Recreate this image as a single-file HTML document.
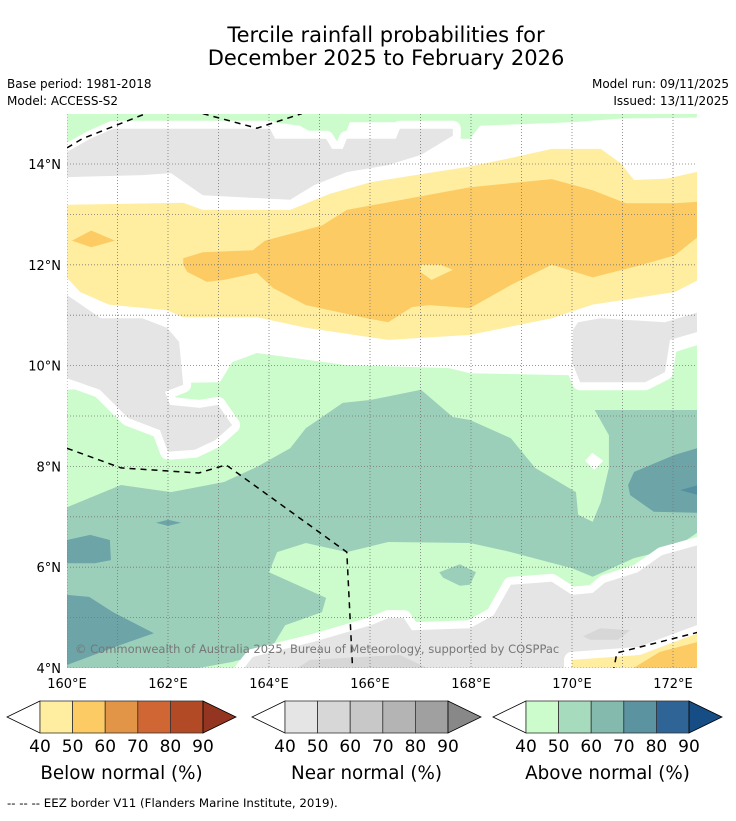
<!DOCTYPE html>
<html><head><meta charset="utf-8">
<style>
body{margin:0;background:#fff;}
svg text{font-family:"DejaVu Sans","Liberation Sans",sans-serif;}
</style></head>
<body>
<svg id="chart" width="736" height="816" viewBox="0 0 736 816" xmlns="http://www.w3.org/2000/svg">
<text x="386" y="42" font-size="21" text-anchor="middle">Tercile rainfall probabilities for</text>
<text x="386" y="65" font-size="21" text-anchor="middle">December 2025 to February 2026</text>
<text x="7" y="88" font-size="12">Base period: 1981-2018</text>
<text x="7" y="105" font-size="12">Model: ACCESS-S2</text>
<text x="729" y="88" font-size="12" text-anchor="end">Model run: 09/11/2025</text>
<text x="729" y="105" font-size="12" text-anchor="end">Issued: 13/11/2025</text>
<defs><clipPath id="mapclip"><rect x="67" y="114" width="630" height="554"/></clipPath></defs>
<g id="map" clip-path="url(#mapclip)"></g>
<g id="axes"></g>
<g id="cbars"></g>
<text x="7" y="807" font-size="11.8">--  --  -- EEZ border V11 (Flanders Marine Institute, 2019).</text>
</svg>
<script>
const NS="http://www.w3.org/2000/svg";
const lonTicks=[160,162,164,166,168,170,172];
const latTicks=[4,6,8,10,12,14];
const gridLons=[160,161,162,163,164,165,166,167,168,169,170,171,172];
const gridLats=[4,5,6,7,8,9,10,11,12,13,14];
const cbTicks=[40,50,60,70,80,90];
const belowColors=["#ffeea0","#fdcb64","#e29447","#cf6633","#b34a26","#933520"];
const nearColors=["#e5e5e5","#d7d7d7","#c8c8c8","#b4b4b4","#a0a0a0","#888888"];
const aboveColors=["#ccfccc","#a7dbbd","#84b9ad","#5b94a0","#2f6497","#164d85"];
const cbTitles=["Below normal (%)","Near normal (%)","Above normal (%)"];
const topGreen=[[160,15.2],[172.5,15.2],[172.47,14.92],[170.95,14.9],[170,14.83],[168.97,14.79],[168.18,14.76],[167.98,14.5],[167.78,14.5],[167.64,14.76],[166.59,14.83],[165.6,14.83],[165.46,14.46],[165.31,14.26],[165.13,14.46],[164.61,14.76],[164.08,14.83],[160.91,14.83],[160.46,14.66],[160,14.42]];
const topGray=[[160,14.24],[160.46,14.5],[160.91,14.7],[164.02,14.7],[164.12,14.5],[165.13,14.5],[165.25,14.3],[165.46,14.3],[165.54,14.5],[166.51,14.5],[166.59,14.7],[167.64,14.7],[167.64,14.56],[167.01,14.18],[166.36,13.98],[165.54,13.84],[164.89,13.58],[164.42,13.29],[162.69,13.38],[162.06,13.82],[161.49,13.78],[160,13.74]];
const yellowBand=[[160,13.19],[162.3,13.23],[162.69,13.09],[164.42,13.09],[165.21,13.41],[166.02,13.64],[167.98,13.95],[168.79,14.12],[169.6,14.3],[170.57,14.3],[170.97,14.01],[171.23,13.68],[171.88,13.71],[172.5,13.85],[172.5,11.7],[172.04,11.46],[170.41,11.21],[169.6,10.94],[167.98,10.61],[166.36,10.51],[164.73,10.75],[163.76,10.96],[162.3,10.96],[161.98,11.1],[160.83,11.21],[160.26,11.46],[160,11.74]];
const orangeBand=[[162.3,12.0],[162.3,12.13],[162.69,12.25],[163.68,12.29],[163.92,12.48],[165.05,12.78],[165.54,13.09],[167.98,13.54],[169.6,13.7],[170.41,13.48],[171.07,13.22],[172.04,13.22],[172.5,13.25],[172.5,12.56],[172.04,12.19],[171.39,12.0],[170.41,11.75],[169.6,12.0],[168.79,11.6],[167.98,11.14],[167.17,11.2],[166.83,11.16],[166.36,10.86],[165.94,10.94],[164.73,11.2],[164.08,11.54],[163.76,11.84],[163.11,11.7],[162.77,11.66],[162.38,11.86]];
const orangeBlob=[[160.1,12.48],[160.48,12.68],[160.95,12.48],[160.48,12.35]];
const yellowHole=[[167.0,12.0],[167.39,12.0],[167.64,11.9],[167.22,11.7],[167.0,11.86]];
const bigGreen=[[160,9.52],[162.3,9.66],[163.03,9.67],[163.27,10.07],[163.76,10.25],[165.54,10.01],[167.56,9.95],[167.98,9.85],[170,9.81],[170.16,9.62],[171.55,9.62],[172.04,10.27],[172.5,10.41],[172.5,3.9],[160,3.9]];
const teal=[[160,7.19],[161.07,7.63],[162.06,7.49],[163.11,7.69],[163.76,7.99],[164.42,8.36],[164.73,8.76],[165.46,9.26],[166.02,9.32],[167.01,9.52],[167.64,8.98],[167.98,8.92],[168.79,8.56],[169.27,7.97],[170.08,7.49],[170.12,7.04],[170.41,6.9],[170.57,7.29],[170.73,7.97],[170.73,8.62],[170.45,9.12],[172.5,9.12],[172.5,6.7],[172.04,6.38],[171.23,6.18],[170.41,5.81],[170,5.98],[168.79,6.3],[167.98,6.48],[166.36,6.5],[165.54,6.3],[164.73,6.48],[164.16,6.3],[164.0,5.9],[164.42,5.71],[165.13,5.39],[165.05,5.11],[164.32,4.85],[164.0,4.32],[163.27,4.12],[162.06,3.9],[160,3.9]];
const whiteDiamond=[[170.26,8.11],[170.4,8.27],[170.62,8.11],[170.44,7.93]];
const tealBlob=[[167.37,5.9],[167.78,6.06],[168.1,5.9],[167.98,5.65],[167.78,5.63],[167.45,5.79]];
const darkA=[[160,6.54],[160.46,6.64],[160.85,6.54],[160.87,6.14],[160.55,6.08],[160,6.08]];
const darkB=[[160,5.45],[160.44,5.41],[160.91,5.11],[161.72,4.69],[161.07,4.46],[160,4.06]];
const darkC=[[171.23,7.89],[172.04,8.23],[172.5,8.37],[172.5,7.08],[171.62,7.1],[171.15,7.43],[171.11,7.63]];
const spindle=[[161.76,6.88],[162.0,6.94],[162.26,6.88],[162.0,6.82]];
const darkest=[[172.14,7.53],[172.5,7.63],[172.5,7.43]];
const leftGray=[[160,11.4],[160.67,10.94],[161.49,10.94],[161.98,10.75],[162.22,10.47],[162.3,9.62],[161.94,9.48],[162.04,9.22],[162.63,9.16],[162.99,9.22],[163.27,8.82],[162.93,8.52],[162.53,8.33],[162.0,8.29],[161.84,8.72],[161.21,8.96],[160.65,9.52],[160,9.75]];
const rightGray=[[170.12,10.86],[170.56,10.94],[171.84,10.86],[172.5,11.06],[172.5,10.67],[171.94,10.51],[171.84,9.87],[171.45,9.67],[170.16,9.67],[170,10.07],[170.02,10.71]];
const bottomGray=[[163.43,3.9],[163.68,4.22],[164.08,4.32],[164.89,4.52],[166.02,4.85],[166.36,4.99],[166.67,4.99],[166.83,4.75],[167.98,4.79],[168.45,5.05],[168.79,5.65],[169.6,5.71],[170,5.45],[170.41,5.49],[170.65,5.69],[171.3,5.9],[171.78,6.24],[172.5,6.44],[172.5,3.9]];
const grayPatch=[[170.22,4.63],[170.56,4.79],[171.15,4.75],[170.91,4.56],[170.36,4.56]];
const grayBand=[[164.42,3.9],[164.81,4.16],[166.59,4.26],[167.33,3.9]];
const brYellow=[[170,3.9],[170,4.16],[171.35,4.26],[172.14,4.56],[172.5,4.69],[172.5,3.9]];
const brOrange=[[171.05,3.9],[171.74,4.32],[172.5,4.52],[172.5,3.9]];
const eezLines=[
 [[160,14.32],[160.3,14.5],[160.83,14.71],[161.56,15.0],[161.7,15.1]],
 [[162.69,15.0],[163.76,14.71],[164.65,15.0]],
 [[160,8.36],[161.07,7.97],[162.61,7.87],[163.15,8.03],[165.54,6.3],[165.66,3.9]],
 [[170.81,3.9],[170.89,4.3],[172.5,4.71]]
];
const X=lon=>67+(lon-160)*50.5;
const Y=lat=>668-(lat-4)*50.4;
const map=document.getElementById('map');
function poly(ring,fill,name,halo){
  const p=document.createElementNS(NS,'polygon');
  p.setAttribute('points',ring.map(q=>X(q[0]).toFixed(1)+','+Y(q[1]).toFixed(1)).join(' '));
  p.setAttribute('fill',fill);
  if(halo){p.setAttribute('stroke','#fff');p.setAttribute('stroke-width','16');p.setAttribute('stroke-linejoin','round');p.setAttribute('paint-order','stroke');}
  
  
  map.appendChild(p);
}
const bg=document.createElementNS(NS,'rect');
bg.setAttribute('x',67);bg.setAttribute('y',114);bg.setAttribute('width',630);bg.setAttribute('height',554);bg.setAttribute('fill','#fff');


map.appendChild(bg);
const G1=aboveColors[0],G2="#9ccfb9",G3="#6ca4a8",G4="#55909f";
poly(topGreen,G1,'above-normal-north',false);
poly(topGray,nearColors[0],'near-normal-north',true);
poly(bigGreen,G1,'above-normal-south',true);
poly(teal,G2,'above-normal-50-60',false);
poly(tealBlob,G2,'above-normal-blob',false);
poly(darkA,G3,'above-normal-60-70-a',false);
poly(darkB,G3,'above-normal-60-70-b',false);
poly(darkC,G3,'above-normal-60-70-c',false);
poly(spindle,G3,'above-normal-60-70-d',false);
poly(darkest,G4,'above-normal-70-80',false);
poly(whiteDiamond,'#fff','no-signal-patch',false);
poly(leftGray,nearColors[0],'near-normal-west',true);
poly(rightGray,nearColors[0],'near-normal-east',true);
poly(bottomGray,nearColors[0],'near-normal-south',true);
poly(grayPatch,nearColors[1],'near-normal-50-60-a',false);
poly(grayBand,nearColors[1],'near-normal-50-60-b',false);
poly(yellowBand,belowColors[0],'below-normal-40-50',true);
poly(orangeBand,belowColors[1],'below-normal-50-60',false);
poly(orangeBlob,belowColors[1],'below-normal-blob',false);
poly(yellowHole,belowColors[0],'below-normal-hole',false);
poly(brYellow,belowColors[0],'below-normal-southeast',true);
poly(brOrange,belowColors[1],'below-normal-southeast-50-60',false);
gridLons.forEach(l=>{const ln=document.createElementNS(NS,'line');
 ln.setAttribute('x1',X(l));ln.setAttribute('x2',X(l));ln.setAttribute('y1',114);ln.setAttribute('y2',668);
 ln.setAttribute('stroke','#777');ln.setAttribute('stroke-width','0.8');ln.setAttribute('stroke-dasharray','1,2');
 
 
 map.appendChild(ln);});
gridLats.forEach(l=>{const ln=document.createElementNS(NS,'line');
 ln.setAttribute('y1',Y(l));ln.setAttribute('y2',Y(l));ln.setAttribute('x1',67);ln.setAttribute('x2',697);
 ln.setAttribute('stroke','#777');ln.setAttribute('stroke-width','0.8');ln.setAttribute('stroke-dasharray','1,2');
 
 
 map.appendChild(ln);});
eezLines.forEach(r=>{const pl=document.createElementNS(NS,'polyline');
 pl.setAttribute('points',r.map(q=>X(q[0]).toFixed(1)+','+Y(q[1]).toFixed(1)).join(' '));
 pl.setAttribute('fill','none');pl.setAttribute('stroke','#000');pl.setAttribute('stroke-width','1.5');pl.setAttribute('stroke-dasharray','6,5');
 
 
 map.appendChild(pl);});
const cr=document.createElementNS(NS,'text');
cr.setAttribute('x',75);cr.setAttribute('y',653);cr.setAttribute('font-size','11.5');cr.setAttribute('fill','#777');
cr.textContent='\u00a9 Commonwealth of Australia 2025, Bureau of Meteorology, supported by COSPPac';


map.appendChild(cr);
const axes=document.getElementById('axes');
lonTicks.forEach(l=>{const t=document.createElementNS(NS,'text');
 t.setAttribute('x',X(l));t.setAttribute('y',688);t.setAttribute('font-size','13');t.setAttribute('text-anchor','middle');
 t.textContent=l+'°E';
 
 
 axes.appendChild(t);});
latTicks.forEach(l=>{const t=document.createElementNS(NS,'text');
 t.setAttribute('x',61);t.setAttribute('y',Y(l)+5);t.setAttribute('font-size','13');t.setAttribute('text-anchor','end');
 t.textContent=l+'°N';
 
 
 axes.appendChild(t);});
const cb=document.getElementById('cbars');
const cbLeft=[40,285,526], cbW=163, cbY=701, cbH=32, tri=33;
[belowColors,nearColors,aboveColors].forEach((cols,i)=>{
 const x0=cbLeft[i], sw=cbW/5;
 const lt=document.createElementNS(NS,'polygon');
 lt.setAttribute('points',`${x0},${cbY} ${x0-tri},${cbY+cbH/2} ${x0},${cbY+cbH}`);
 lt.setAttribute('fill','#fff');lt.setAttribute('stroke','#000');lt.setAttribute('stroke-width','0.8');
 
 
 cb.appendChild(lt);
 for(let k=0;k<5;k++){const r=document.createElementNS(NS,'rect');
  r.setAttribute('x',x0+k*sw);r.setAttribute('y',cbY);r.setAttribute('width',sw);r.setAttribute('height',cbH);
  r.setAttribute('fill',cols[k]);r.setAttribute('stroke','#333');r.setAttribute('stroke-width','0.8');
  
  
  cb.appendChild(r);}
 const rt=document.createElementNS(NS,'polygon');
 rt.setAttribute('points',`${x0+cbW},${cbY} ${x0+cbW+tri},${cbY+cbH/2} ${x0+cbW},${cbY+cbH}`);
 rt.setAttribute('fill',cols[5]);rt.setAttribute('stroke','#000');rt.setAttribute('stroke-width','0.8');
 
 
 cb.appendChild(rt);
 cbTicks.forEach((v,k)=>{const t=document.createElementNS(NS,'text');
  t.setAttribute('x',x0+k*sw);t.setAttribute('y',752);t.setAttribute('font-size','17');t.setAttribute('text-anchor','middle');
  t.textContent=v;
  
  
  cb.appendChild(t);});
 const tt=document.createElementNS(NS,'text');
 tt.setAttribute('x',x0+cbW/2);tt.setAttribute('y',779);tt.setAttribute('font-size','18.3');tt.setAttribute('text-anchor','middle');
 tt.textContent=cbTitles[i];
 
 
 cb.appendChild(tt);
});
</script>
</body></html>
